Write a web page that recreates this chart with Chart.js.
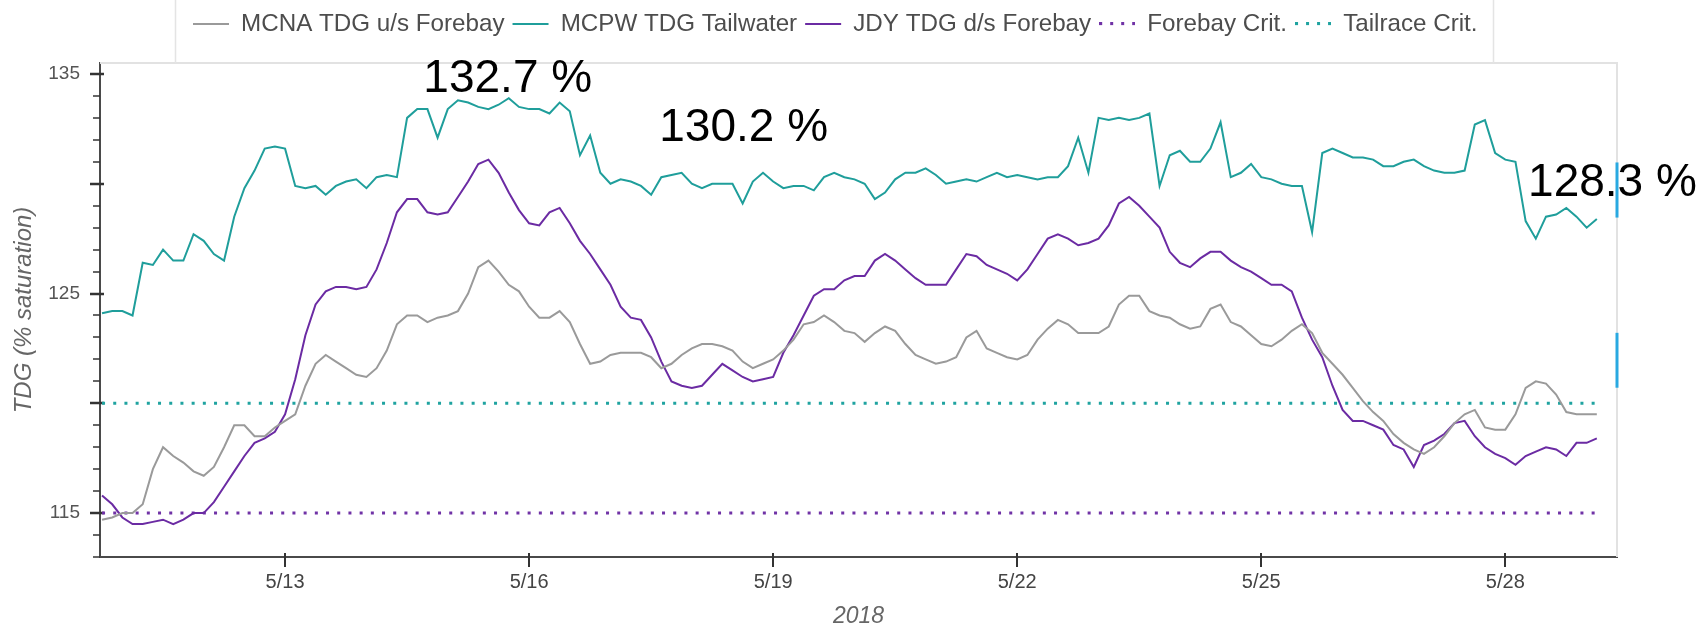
<!DOCTYPE html>
<html>
<head>
<meta charset="utf-8">
<script src="https://cdn.jsdelivr.net/npm/chart.js@4.4.1/dist/chart.umd.min.js"></script>
<style>
  html, body { margin: 0; padding: 0; background: #fff; }
  #wrap { width: 1706px; height: 630px; }
</style>
</head>
<body>
<div id="wrap"><canvas id="tdgChart" width="1706" height="630"></canvas></div>
<script>
// samples every 3 h, first one on 5/10 18:00 (x = day of May)
const startDay = 10.75;
const stepDays = 3 / 24;

const mcnaTDG = [
  114.7, 114.8, 115.0, 115.0, 115.4, 117.0, 118.0, 117.6, 117.3, 116.9, 116.7, 117.1, 118.0, 119.0, 119.0, 118.5, 118.5, 118.9, 119.2, 119.5,
  120.8, 121.8, 122.2, 121.9, 121.6, 121.3, 121.2, 121.6, 122.4, 123.6, 124.0, 124.0, 123.7, 123.9, 124.0, 124.2, 125.0, 126.2,
  126.5, 126.0, 125.4, 125.1, 124.4, 123.9, 123.9, 124.2, 123.7, 122.7, 121.8, 121.9, 122.2, 122.3, 122.3, 122.3, 122.1, 121.6, 121.8, 122.2,
  122.5, 122.7, 122.7, 122.6, 122.4, 121.9, 121.6, 121.8, 122.0, 122.4, 122.9, 123.6, 123.7, 124.0, 123.7, 123.3,
  123.2, 122.8, 123.2, 123.5, 123.3, 122.7, 122.2, 122.0, 121.8, 121.9, 122.1, 123.0, 123.3, 122.5, 122.3, 122.1, 122.0, 122.2, 122.9, 123.4,
  123.8, 123.6, 123.2, 123.2, 123.2, 123.5, 124.5, 124.9, 124.9, 124.2, 124.0, 123.9, 123.6, 123.4, 123.5, 124.3,
  124.5, 123.7, 123.5, 123.1, 122.7, 122.6, 122.9, 123.3, 123.6, 123.2, 122.3, 121.8, 121.3, 120.7, 120.1, 119.6, 119.2, 118.6, 118.2, 117.9,
  117.7, 118.0, 118.5, 119.1, 119.5, 119.7, 118.9, 118.8, 118.8, 119.5, 120.7, 121.0, 120.9, 120.4, 119.6, 119.5, 119.5, 119.5
];

const mcpwTDG = [
  124.1, 124.2, 124.2, 124.0, 126.4, 126.3, 127.0, 126.5, 126.5, 127.7, 127.4, 126.8, 126.5, 128.5, 129.8, 130.6, 131.6, 131.7, 131.6, 129.9,
  129.8, 129.9, 129.5, 129.9, 130.1, 130.2, 129.8, 130.3, 130.4, 130.3, 133.0, 133.4, 133.4, 132.1, 133.4, 133.8, 133.7, 133.5,
  133.4, 133.6, 133.9, 133.5, 133.4, 133.4, 133.2, 133.7, 133.3, 131.3, 132.2, 130.5, 130.0, 130.2, 130.1, 129.9, 129.5, 130.3, 130.4, 130.5,
  130.0, 129.8, 130.0, 130.0, 130.0, 129.1, 130.1, 130.5, 130.1, 129.8, 129.9, 129.9, 129.7, 130.3, 130.5, 130.3,
  130.2, 130.0, 129.3, 129.6, 130.2, 130.5, 130.5, 130.7, 130.4, 130.0, 130.1, 130.2, 130.1, 130.3, 130.5, 130.3, 130.4, 130.3, 130.2, 130.3,
  130.3, 130.8, 132.1, 130.5, 133.0, 132.9, 133.0, 132.9, 133.0, 133.2, 129.9, 131.3, 131.5, 131.0, 131.0, 131.6,
  132.8, 130.3, 130.5, 130.9, 130.3, 130.2, 130.0, 129.9, 129.9, 127.8, 131.4, 131.6, 131.4, 131.2, 131.2, 131.1, 130.8, 130.8, 131.0, 131.1,
  130.8, 130.6, 130.5, 130.5, 130.6, 132.7, 132.9, 131.4, 131.1, 131.0, 128.3, 127.5, 128.5, 128.6, 128.9, 128.5, 128.0, 128.4
];

const jdyTDG = [
  115.8, 115.4, 114.8, 114.5, 114.5, 114.6, 114.7, 114.5, 114.7, 115.0, 115.0, 115.5, 116.2, 116.9, 117.6, 118.2, 118.4, 118.7, 119.5, 121.1,
  123.1, 124.5, 125.1, 125.3, 125.3, 125.2, 125.3, 126.1, 127.3, 128.7, 129.3, 129.3, 128.7, 128.6, 128.7, 129.4, 130.1, 130.9,
  131.1, 130.5, 129.6, 128.8, 128.2, 128.1, 128.7, 128.9, 128.2, 127.4, 126.8, 126.1, 125.4, 124.4, 123.9, 123.8, 123.0, 121.9, 121.0, 120.8,
  120.7, 120.8, 121.3, 121.8, 121.5, 121.2, 121.0, 121.1, 121.2, 122.3, 123.1, 124.0, 124.9, 125.2, 125.2, 125.6,
  125.8, 125.8, 126.5, 126.8, 126.5, 126.1, 125.7, 125.4, 125.4, 125.4, 126.1, 126.8, 126.7, 126.3, 126.1, 125.9, 125.6, 126.1, 126.8, 127.5,
  127.7, 127.5, 127.2, 127.3, 127.5, 128.1, 129.1, 129.4, 129.0, 128.5, 128.0, 126.9, 126.4, 126.2, 126.6, 126.9,
  126.9, 126.5, 126.2, 126.0, 125.7, 125.4, 125.4, 125.1, 123.9, 122.9, 122.1, 120.8, 119.7, 119.2, 119.2, 119.0, 118.8, 118.1, 117.9, 117.1,
  118.1, 118.3, 118.6, 119.1, 119.2, 118.5, 118.0, 117.7, 117.5, 117.2, 117.6, 117.8, 118.0, 117.9, 117.6, 118.2, 118.2, 118.4
];

const forebayCrit = 115;
const tailraceCrit = 120;

const xTickDays = [13, 16, 19, 22, 25, 28];
const xTickLabels = ['5/13', '5/16', '5/19', '5/22', '5/25', '5/28'];
const yTicks = [113, 114, 115, 116, 117, 118, 119, 120, 121, 122, 123, 124, 125,
  126, 127, 128, 129, 130, 131, 132, 133, 134, 135];
const yMajorTicks = [115, 120, 125, 130, 135];

const calloutText = ['132.7 %', '130.2 %', '128.3 %'];

// text placement for the callouts, in axis units
const callouts = [
  { day: 14.70, val: 134.16 },
  { day: 17.60, val: 131.94 },
  { day: 28.28, val: 129.46 }
];
// the two short blue marks on the right frame
const sideMarks = [[130.97, 128.46], [123.21, 120.71]];

const sampleDays = mcnaTDG.map((_, i) => startDay + i * stepDays);
const toPoints = vals => vals.map((v, i) => ({ x: sampleDays[i], y: v }));
const firstDay = sampleDays[0];
const lastDay = sampleDays[sampleDays.length - 1];

// small dotted swatch for the legend (chart.js draws 'line' legend marks solid)
function dotSwatch(color) {
  const c = document.createElement('canvas');
  c.width = 36;
  c.height = 4;
  const g = c.getContext('2d');
  g.fillStyle = color;
  for (let i = 0; i < 4; i++) g.fillRect(i * 11, 0, 3, 3);
  return c;
}

function seriesLine(label, vals, color) {
  return {
    label: label,
    data: toPoints(vals),
    borderColor: color,
    backgroundColor: color,
    borderWidth: 2,
    pointRadius: 0,
    pointStyle: 'line',
    tension: 0
  };
}

function critLine(label, level, color) {
  return {
    label: label,
    data: [{ x: firstDay, y: level }, { x: lastDay, y: level }],
    borderColor: color,
    backgroundColor: color,
    borderWidth: 3,
    borderDash: [3, 8.2],
    borderCapStyle: 'butt',
    pointRadius: 0,
    pointStyle: dotSwatch(color)
  };
}

const decor = {
  id: 'decor',
  beforeInit(chart) {
    const legend = chart.legend;
    const fit = legend.fit;
    legend.fit = function () {
      fit.call(this);
      this.height = 63;
    };
  },
  afterLayout(chart) {
    const lg = chart.legend;
    lg.left += 185;
    lg.right += 185;
    lg.top += 4;
    lg.bottom += 4;
  },
  beforeDatasetsDraw(chart) {
    const { ctx, chartArea: a, scales: { x, y } } = chart;
    ctx.save();
    // light frame on top and right
    ctx.strokeStyle = '#e2e2e2';
    ctx.lineWidth = 2;
    ctx.beginPath();
    ctx.moveTo(a.left, a.top);
    ctx.lineTo(a.right, a.top);
    ctx.lineTo(a.right, a.bottom);
    ctx.stroke();

    // y tick marks, majors cross the axis
    ctx.strokeStyle = '#333';
    yTicks.forEach(v => {
      const major = yMajorTicks.includes(v);
      const py = Math.round(y.getPixelForValue(v));
      ctx.lineWidth = major ? 2.5 : 1.5;
      ctx.beginPath();
      ctx.moveTo(a.left - (major ? 10 : 7), py);
      ctx.lineTo(a.left + (major ? 4 : 0), py);
      ctx.stroke();
    });

    // x tick marks
    ctx.lineWidth = 2;
    xTickDays.forEach(d => {
      const px = Math.round(x.getPixelForValue(d));
      ctx.beginPath();
      ctx.moveTo(px, a.bottom - 4);
      ctx.lineTo(px, a.bottom + 10);
      ctx.stroke();
    });
    ctx.restore();
  },
  afterDraw(chart) {
    const { ctx, chartArea: a, scales: { x, y } } = chart;
    ctx.save();

    // legend frame sides
    const boxes = chart.legend.legendHitBoxes;
    if (boxes && boxes.length) {
      const last = boxes[boxes.length - 1];
      const l = Math.round(boxes[0].left - 18) + 0.5;
      const r = Math.round(last.left + last.width + 15) + 0.5;
      ctx.strokeStyle = '#e4e4e4';
      ctx.lineWidth = 1.5;
      ctx.beginPath();
      ctx.moveTo(l, 0); ctx.lineTo(l, a.top);
      ctx.moveTo(r, 0); ctx.lineTo(r, a.top);
      ctx.stroke();
    }

    // blue marks on the right edge
    ctx.strokeStyle = '#29a9e1';
    ctx.lineWidth = 3;
    sideMarks.forEach(([hi, lo]) => {
      ctx.beginPath();
      ctx.moveTo(a.right, y.getPixelForValue(hi));
      ctx.lineTo(a.right, y.getPixelForValue(lo));
      ctx.stroke();
    });

    // callouts
    ctx.fillStyle = '#000';
    ctx.font = '46px "Liberation Sans", Arial, sans-serif';
    ctx.textAlign = 'left';
    ctx.textBaseline = 'alphabetic';
    callouts.forEach((c, i) => {
      ctx.fillText(calloutText[i], x.getPixelForValue(c.day), y.getPixelForValue(c.val));
    });
    ctx.restore();
  }
};

Chart.defaults.font.family = '"Liberation Sans", Arial, sans-serif';

const ctx = document.getElementById('tdgChart').getContext('2d');

new Chart(ctx, {
  type: 'line',
  data: {
    datasets: [
      seriesLine('MCNA TDG u/s Forebay', mcnaTDG, '#9a9a9a'),
      seriesLine('MCPW TDG Tailwater', mcpwTDG, '#1f9e9b'),
      seriesLine('JDY TDG d/s Forebay', jdyTDG, '#6b2ba3'),
      critLine('Forebay Crit.', forebayCrit, '#7032a6'),
      critLine('Tailrace Crit.', tailraceCrit, '#1fa3a0')
    ]
  },
  options: {
    responsive: false,
    animation: false,
    events: [],
    layout: { padding: { left: 0, right: 89, top: 0, bottom: 0 } },
    plugins: {
      tooltip: { enabled: false },
      legend: {
        position: 'top',
        align: 'start',
        labels: {
          usePointStyle: true,
          pointStyleWidth: 36,
          padding: 8,
          color: '#4d4d4d',
          font: { size: 24.2 }
        }
      }
    },
    scales: {
      x: {
        type: 'linear',
        min: 10.725,
        max: 29.373,
        afterBuildTicks: s => { s.ticks = xTickDays.map(v => ({ value: v })); },
        afterFit: s => { s.height = 73; },
        grid: { drawOnChartArea: false, drawTicks: true, tickLength: 10, color: 'rgba(0,0,0,0)' },
        border: { display: true, color: '#4a4a4a', width: 2 },
        ticks: {
          padding: 3,
          autoSkip: false,
          maxRotation: 0,
          color: '#444',
          font: { size: 20 },
          callback: (v, i) => xTickLabels[i]
        },
        title: {
          display: true,
          text: '2018',
          color: '#666',
          font: { size: 23, style: 'italic' },
          padding: { top: 0, bottom: 0 }
        }
      },
      y: {
        min: 113,
        max: 135.5,
        afterBuildTicks: s => { s.ticks = yTicks.map(v => ({ value: v })); },
        afterFit: s => { s.width = 100; },
        grid: { drawOnChartArea: false, drawTicks: true, tickLength: 10, color: 'rgba(0,0,0,0)' },
        border: { display: true, color: '#4a4a4a', width: 2 },
        ticks: {
          padding: 10,
          color: '#555',
          font: { size: 19 },
          callback: v => (yMajorTicks.includes(v) ? String(v) : '')
        },
        title: {
          display: true,
          text: 'TDG (% saturation)',
          color: '#666',
          font: { size: 24, style: 'italic' },
          padding: { top: 10, bottom: 0 }
        }
      }
    }
  },
  plugins: [decor]
});
</script>
</body>
</html>
